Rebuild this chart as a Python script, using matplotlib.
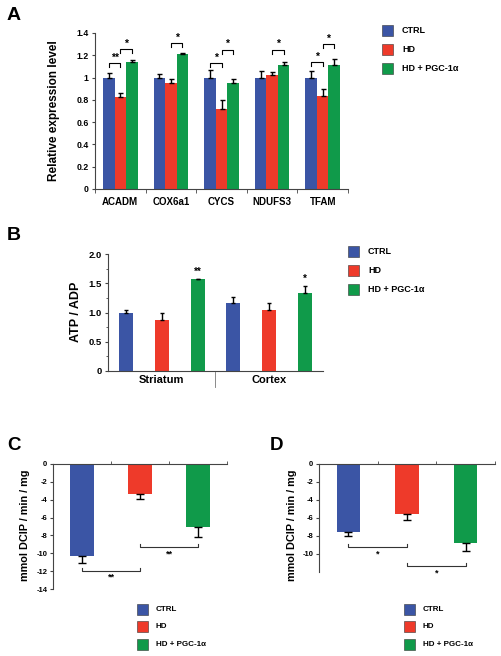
import matplotlib
matplotlib.use("Agg")
import matplotlib.pyplot as plt
from matplotlib.patches import Rectangle
import numpy as np

plt.rcParams['font.family'] = ['Liberation Sans', 'DejaVu Sans']
plt.rcParams['font.weight'] = 'bold'

# ---------------- data ----------------
groups = ["CTRL", "HD", "HD + PGC-1\u03b1"]
colors = ["#3B55A5", "#EE3A2A", "#109A4A"]

# Panel A
genes = ["ACADM", "COX6a1", "CYCS", "NDUFS3", "TFAM"]
a_ctrl = [1.0, 1.0, 1.0, 1.0, 1.0]
a_ctrl_err = [0.04, 0.03, 0.065, 0.055, 0.057]
a_hd = [0.83, 0.95, 0.72, 1.02, 0.835]
a_hd_err = [0.03, 0.035, 0.08, 0.03, 0.06]
a_pgc = [1.14, 1.21, 0.955, 1.11, 1.11]
a_pgc_err = [0.02, 0.015, 0.03, 0.03, 0.06]
# (gene index, group i, group j, bracket height, label)
a_sig = [(0, 0, 1, 1.13, "**"), (0, 1, 2, 1.255, "*"),
         (1, 1, 2, 1.31, "*"),
         (2, 0, 1, 1.13, "*"), (2, 1, 2, 1.25, "*"),
         (3, 1, 2, 1.25, "*"),
         (4, 0, 1, 1.14, "*"), (4, 1, 2, 1.30, "*")]

# Panel B
regions = ["Striatum", "Cortex"]
b_ctrl = [1.0, 1.16]
b_ctrl_err = [0.04, 0.11]
b_hd = [0.88, 1.04]
b_hd_err = [0.12, 0.13]
b_pgc = [1.565, 1.34]
b_pgc_err = [0.015, 0.12]
b_sig = ["**", "*"]

# Panel C
c_vals = [-10.3, -3.36, -7.02]
c_err = [0.8, 0.6, 1.1]
c_sig = [(0, 1, -11.95, "**"), (1, 2, -9.3, "**")]

# Panel D
d_vals = [-7.59, -5.56, -8.78]
d_err = [0.42, 0.7, 0.9]
d_sig = [(0, 1, -9.26, "*"), (1, 2, -11.33, "*")]

# ---------------- layout helpers ----------------
W, H = 502, 656
fig = plt.figure(figsize=(W / 100, H / 100), dpi=100)
SPINE = "#444444"


def rect(x0, y0, x1, y1):
    return [x0 / W, 1 - y1 / H, (x1 - x0) / W, (y1 - y0) / H]


def fx(x):
    return x / W


def fy(y):
    return 1 - y / H


def legend(x, ys, size, tx, fs):
    for y, col, lab in zip(ys, colors, groups):
        fig.add_artist(Rectangle((fx(x), fy(y + size)), size / W, size / H,
                                 transform=fig.transFigure, facecolor=col,
                                 edgecolor="#333333", linewidth=0.4))
        fig.text(fx(tx), fy(y + size / 2), lab, fontsize=fs, fontweight='bold',
                 ha='left', va='center')


def style_spines(ax, keep):
    for s in ["top", "bottom", "left", "right"]:
        ax.spines[s].set_visible(s in keep)
        ax.spines[s].set_color(SPINE)
        ax.spines[s].set_linewidth(0.8)
    ax.tick_params(colors=SPINE, labelcolor='black')


# ---------------- Panel A ----------------
axA = fig.add_axes(rect(95, 33, 348, 189))
n = len(genes)
xa = np.arange(n) + 0.5
bw = 0.227
for k, (vals, errs) in enumerate([(a_ctrl, a_ctrl_err), (a_hd, a_hd_err), (a_pgc, a_pgc_err)]):
    pos = xa + (k - 1) * bw
    axA.bar(pos, vals, width=bw, color=colors[k], edgecolor='none', zorder=2)
    axA.errorbar(pos, vals, yerr=[np.zeros(n), errs], fmt='none', ecolor='black',
                 elinewidth=1, capsize=1.8, capthick=1, zorder=3)
for gi, i, j, h, lab in a_sig:
    xi = xa[gi] + (i - 1) * bw
    xj = xa[gi] + (j - 1) * bw
    axA.plot([xi, xi, xj, xj], [h - 0.035, h, h, h - 0.035], color='black', lw=0.8)
    axA.text((xi + xj) / 2, h + 0.005, lab, ha='center', va='bottom', fontsize=7.5,
             fontweight='bold')
axA.set_xlim(0, n)
axA.set_ylim(0, 1.4)
yt = np.arange(0, 1.41, 0.2)
axA.set_yticks(yt)
axA.set_yticklabels([f"{v:g}" for v in yt], fontsize=6.3, fontweight='bold')
axA.set_xticks(xa)
axA.set_xticklabels(genes, fontsize=7, fontweight='bold')
axA.set_xticks(np.arange(n + 1), minor=True)
axA.tick_params(axis='x', which='major', length=0, pad=6)
axA.tick_params(axis='x', which='minor', length=3, color=SPINE)
axA.tick_params(axis='y', length=2.5, pad=2)
style_spines(axA, ["left", "bottom"])
fig.text(fx(54), fy(111), "Relative expression level", rotation=90, fontsize=8.5,
         fontweight='bold', ha='center', va='center')
fig.text(fx(7), fy(15), "A", fontsize=14, fontweight='bold', ha='left', va='center')
legend(382, [25, 44, 63], 11, 402, 6.5)

# ---------------- Panel B ----------------
axB = fig.add_axes(rect(108, 254, 323, 371))
nb = len(regions)
bwb = 0.39
series_b = [(b_ctrl, b_ctrl_err), (b_hd, b_hd_err), (b_pgc, b_pgc_err)]
for r in range(nb):
    for k, (vals, errs) in enumerate(series_b):
        p = r * 3 + k
        axB.bar(p, vals[r], width=bwb, color=colors[k], edgecolor='none', zorder=2)
        axB.errorbar(p, vals[r], yerr=[[0], [errs[r]]], fmt='none', ecolor='black',
                     elinewidth=1, capsize=1.6, capthick=1, zorder=3)
    top = b_pgc[r] + b_pgc_err[r]
    axB.text(r * 3 + 2, top + 0.03, b_sig[r], ha='center', va='bottom', fontsize=7,
             fontweight='bold')
axB.set_xlim(-0.5, nb * 3 - 0.5)
axB.set_ylim(0, 2.0)
ytb = np.arange(0, 2.01, 0.5)
axB.set_yticks(ytb)
axB.set_yticklabels(["0"] + [f"{v:.1f}" for v in ytb[1:]], fontsize=6.8, fontweight='bold')
axB.set_yticks(np.arange(0, 2.01, 0.25), minor=True)
axB.tick_params(axis='y', which='major', length=2.5, pad=2)
axB.tick_params(axis='y', which='minor', length=1.5, color=SPINE)
axB.set_xticks([1, 4])
axB.set_xticklabels(regions, fontsize=8, fontweight='bold')
axB.tick_params(axis='x', length=0, pad=3)
style_spines(axB, ["left", "bottom"])
axB.plot([2.5, 2.5], [-0.02, -0.28], color="#777777", lw=0.6, clip_on=False)
fig.text(fx(76), fy(312), "ATP / ADP", rotation=90, fontsize=9, fontweight='bold',
         ha='center', va='center')
fig.text(fx(7), fy(236), "B", fontsize=14, fontweight='bold', ha='left', va='center')
legend(348, [246, 265, 284], 11, 368, 6.5)


# ---------------- Panels C and D ----------------
def neg_panel(box, vals, errs, sig, ymin, ticks):
    ax = fig.add_axes(rect(*box))
    xs = np.arange(len(vals)) + 0.5
    for k in range(len(vals)):
        ax.bar(xs[k], vals[k], width=0.4, color=colors[k], edgecolor='none', zorder=2)
        ax.errorbar(xs[k], vals[k], yerr=[[errs[k]], [0]], fmt='none', ecolor='black',
                    elinewidth=1, capsize=2.8, capthick=1, zorder=3)
    for i, j, h, lab in sig:
        ax.plot([xs[i], xs[i], xs[j], xs[j]], [h + 0.35, h, h, h + 0.35],
                color='#333333', lw=0.8, clip_on=False)
        ax.text((xs[i] + xs[j]) / 2, h - 0.25, lab, ha='center', va='top', fontsize=6.5,
                fontweight='bold')
    ax.set_xlim(0, len(vals))
    ax.set_ylim(ymin, 0)
    ax.set_yticks(ticks)
    ax.set_yticklabels([f"{v:g}" for v in ticks], fontsize=5.5, fontweight='bold')
    ax.tick_params(axis='y', length=2, pad=2)
    ax.xaxis.set_ticks_position('top')
    ax.set_xticks([])
    ax.set_xticks(np.arange(1, len(vals) + 1), minor=True)
    ax.tick_params(axis='x', which='minor', length=2, direction='out', color=SPINE)
    style_spines(ax, ["left", "top"])
    return ax


neg_panel((53, 464, 227, 589), c_vals, c_err, c_sig, -14, np.arange(0, -14.1, -2))
fig.text(fx(25), fy(525), "mmol DCIP / min / mg", rotation=90, fontsize=7.8,
         fontweight='bold', ha='center', va='center')
fig.text(fx(7), fy(446), "C", fontsize=13.5, fontweight='bold', ha='left', va='center')
legend(137, [604, 621, 639], 11, 156, 5.8)

neg_panel((319, 464, 495, 572), d_vals, d_err, d_sig, -12, np.arange(0, -10.1, -2))
fig.text(fx(292), fy(525), "mmol DCIP / min / mg", rotation=90, fontsize=7.8,
         fontweight='bold', ha='center', va='center')
fig.text(fx(270), fy(446), "D", fontsize=13.5, fontweight='bold', ha='left', va='center')
legend(404, [604, 621, 639], 11, 423, 5.8)

fig.savefig("out.png", dpi=100)
